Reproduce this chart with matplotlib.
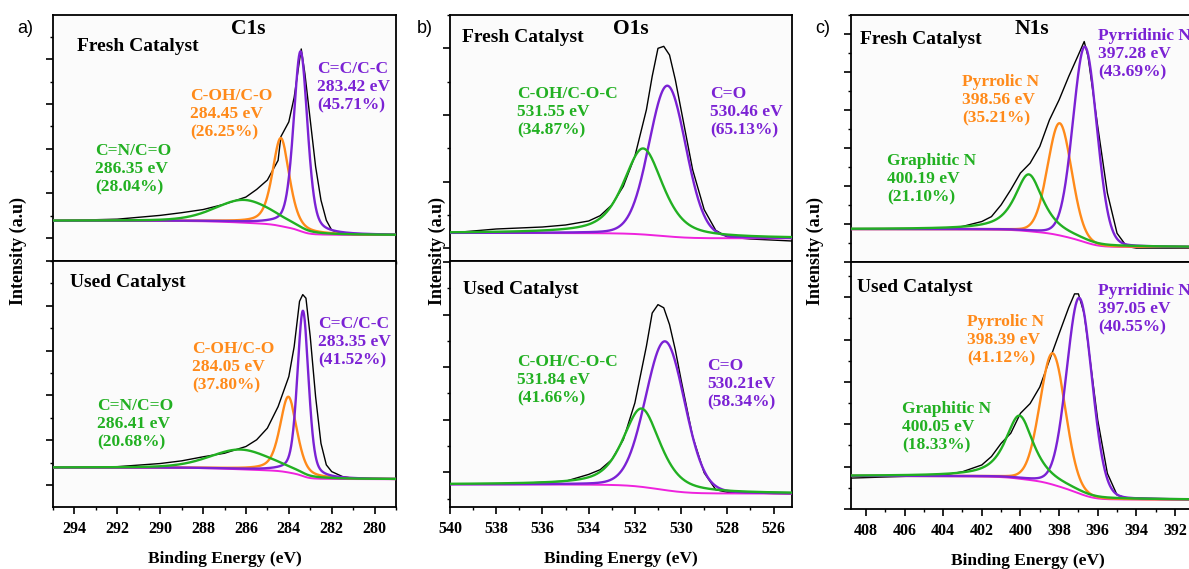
import numpy as np
import matplotlib
matplotlib.use("Agg")
import matplotlib.pyplot as plt
from matplotlib.ticker import MultipleLocator, NullFormatter

# ------------------------------------------------------------------ data
# Fitted components: centre (eV), height (a.u.), FWHM (eV), Lorentz fraction
# baseline = [high-BE side, low-BE side] of the Shirley background
c1s_fresh_center = [283.45, 284.37, 286.07]
c1s_fresh_height = [4.02, 1.97, 0.51]
c1s_fresh_fwhm = [0.77, 0.93, 3.2]
c1s_fresh_eta = [0.4, 0.5, 0.3]
c1s_fresh_base = [1.39, 1.07]

c1s_used_center = [283.34, 284.02, 286.23]
c1s_used_height = [3.69, 1.69, 0.44]
c1s_used_fwhm = [0.62, 0.93, 3.4]
c1s_used_eta = [0.4, 0.5, 0.3]
c1s_used_base = [1.39, 1.13]

o1s_fresh_center = [530.59, 531.64]
o1s_fresh_height = [2.26, 1.29]
o1s_fresh_fwhm = [1.88, 2.02]
o1s_fresh_eta = [0.1, 0.6]
o1s_fresh_base = [1.23, 1.15]

o1s_used_center = [530.69, 531.71]
o1s_used_height = [2.83, 1.49]
o1s_used_fwhm = [2.0, 1.9]
o1s_used_eta = [0.1, 0.6]
o1s_used_base = [0.77, 0.595]

n1s_fresh_center = [396.66, 397.97, 399.57]
n1s_fresh_height = [5.16, 2.96, 1.50]
n1s_fresh_fwhm = [1.46, 1.46, 1.72]
n1s_fresh_eta = [0.1, 0.1, 0.8]
n1s_fresh_base = [0.86, 0.385]

n1s_used_center = [396.95, 398.33, 400.05]
n1s_used_height = [4.62, 3.10, 1.49]
n1s_used_fwhm = [1.55, 1.55, 1.72]
n1s_used_eta = [0.1, 0.1, 0.8]
n1s_used_base = [0.78, 0.22]

c1s_fresh_be = [295, 292, 290, 289, 288, 287, 286, 285.5, 285, 284.5, 284.37, 284, 283.75,
                283.5, 283.42, 283.25, 283.0, 282.75, 282.5, 282.25, 282, 281.5, 281, 279]
c1s_fresh_int = [1.39, 1.425, 1.51, 1.57, 1.64, 1.76, 1.92, 2.09, 2.30, 2.74, 3.27, 3.60, 4.15,
                 4.98, 5.23, 4.68, 3.64, 2.60, 1.85, 1.40, 1.18, 1.105, 1.08, 1.07]
c1s_used_be = [295, 292, 290, 289, 288, 287, 286, 285.5, 285, 284.5, 284, 283.75, 283.5,
               283.35, 283.2, 283.0, 282.75, 282.5, 282.25, 282, 281.5, 281, 279]
c1s_used_int = [1.39, 1.41, 1.48, 1.54, 1.63, 1.71, 1.86, 2.01, 2.27, 2.75, 3.42, 4.09, 5.10,
                5.25, 5.17, 4.31, 2.97, 1.93, 1.45, 1.30, 1.19, 1.15, 1.13]
o1s_fresh_be = [540, 538, 536, 535, 534, 533.5, 533, 532.5, 532, 531.5, 531.25, 531, 530.75,
                530.5, 530.25, 530, 529.5, 529, 528.5, 528, 527, 525.2]
o1s_fresh_int = [1.23, 1.29, 1.32, 1.35, 1.41, 1.49, 1.65, 1.93, 2.38, 3.08, 3.58, 4.00, 4.03,
                 3.90, 3.53, 3.08, 2.18, 1.58, 1.27, 1.17, 1.14, 1.11]
o1s_used_be = [540, 537, 535, 534, 533.5, 533, 532.5, 532, 531.5, 531.25, 531, 530.75, 530.5,
               530.25, 530, 529.5, 529, 528.5, 528, 526, 525.2]
o1s_used_int = [0.77, 0.79, 0.83, 0.96, 1.05, 1.24, 1.62, 2.32, 3.40, 4.03, 4.19, 4.13, 3.81,
                3.33, 2.76, 1.68, 0.99, 0.67, 0.62, 0.595, 0.59]
n1s_fresh_be = [408.77, 404, 403, 402, 401.5, 401, 400.5, 400, 399.5, 399, 398.5, 398, 397.5,
                397, 396.7, 396.5, 396, 395.5, 395, 394.5, 394, 390.5]
n1s_fresh_int = [0.86, 0.86, 0.93, 1.06, 1.19, 1.50, 1.90, 2.34, 2.60, 3.04, 3.74, 4.27, 4.89,
                 5.46, 5.81, 5.41, 3.57, 1.81, 0.75, 0.40, 0.36, 0.36]
n1s_used_be = [408.77, 404, 403, 402, 401.5, 401, 400.5, 400, 399.5, 399, 398.5, 398, 397.5,
               397.2, 397, 396.7, 396.5, 396, 395.5, 395, 394.5, 390.5]
n1s_used_int = [0.73, 0.80, 0.88, 1.04, 1.24, 1.55, 1.79, 2.26, 2.49, 2.88, 3.51, 4.14, 4.76,
                5.08, 5.08, 4.61, 3.90, 2.10, 0.84, 0.33, 0.26, 0.23]

# Labels
c1s_names = ["C=C/C-C", "C-OH/C-O", "C=N/C=O"]
c1s_fresh_pos = ["283.42 eV", "284.45 eV", "286.35 eV"]
c1s_fresh_pct = ["(45.71%)", "(26.25%)", "(28.04%)"]
c1s_used_pos = ["283.35 eV", "284.05 eV", "286.41 eV"]
c1s_used_pct = ["(41.52%)", "(37.80%)", "(20.68%)"]
o1s_names = ["C=O", "C-OH/C-O-C"]
o1s_fresh_pos = ["530.46 eV", "531.55 eV"]
o1s_fresh_pct = ["(65.13%)", "(34.87%)"]
o1s_used_pos = ["530.21eV", "531.84 eV"]
o1s_used_pct = ["(58.34%)", "(41.66%)"]
n1s_names = ["Pyrridinic N", "Pyrrolic N", "Graphitic N"]
n1s_fresh_pos = ["397.28 eV", "398.56 eV", "400.19 eV"]
n1s_fresh_pct = ["(43.69%)", "(35.21%)", "(21.10%)"]
n1s_used_pos = ["397.05 eV", "398.39 eV", "400.05 eV"]
n1s_used_pct = ["(40.55%)", "(41.12%)", "(18.33%)"]
panel_titles = ["C1s", "O1s", "N1s"]
panel_letters = ["a)", "b)", "c)"]
row_titles = ["Fresh Catalyst", "Used Catalyst"]

# ------------------------------------------------------------------ style
PURPLE = "#7b22d4"
ORANGE = "#ff8a1a"
GREEN = "#22b022"
MAGENTA = "#ee22dd"
SERIF = ["Liberation Serif", "DejaVu Serif"]
SANS = ["Liberation Sans", "DejaVu Sans"]
W, H = 1189, 569

plt.rcParams["font.family"] = SERIF
plt.rcParams["font.weight"] = "bold"
plt.rcParams["axes.labelweight"] = "bold"
fig = plt.figure(figsize=(W / 100, H / 100), dpi=100)


def fx(px):
    return px / W


def fy(py):
    return 1 - py / H


def pv(x, c, h, w, eta):
    d = (x - c) / w
    return h * (eta / (1 + 4 * d * d) + (1 - eta) * np.exp(-4 * np.log(2) * d * d))


def draw(ax, xlim, center, height, fwhm, eta, base, be, inten, colors):
    x = np.linspace(min(xlim), max(xlim), 2500)
    peaks = [pv(x, c, h, w, e) for c, h, w, e in zip(center, height, fwhm, eta)]
    total = np.sum(peaks, axis=0)
    cum = np.cumsum(total)
    bg = base[1] + (base[0] - base[1]) * cum / cum[-1]
    ax.plot(be, inten, color="black", lw=1.0, zorder=2)
    ax.plot(x, bg, color=MAGENTA, lw=1.4, zorder=3)
    rank = {ORANGE: 0, PURPLE: 1, GREEN: 2}
    for i in sorted(range(len(center)), key=lambda i: rank[colors[i]]):
        ax.plot(x, bg + peaks[i], color=colors[i], lw=1.7, zorder=4 + rank[colors[i]])


panels = [
    dict(xl=53, xr=396, rows=[(15, 261), (261, 507)], xlim=(295, 279),
         ylims=[(0.49, 5.99), (0.51, 6.0)],
         fits=[(c1s_fresh_center, c1s_fresh_height, c1s_fresh_fwhm, c1s_fresh_eta, c1s_fresh_base,
                c1s_fresh_be, c1s_fresh_int),
               (c1s_used_center, c1s_used_height, c1s_used_fwhm, c1s_used_eta, c1s_used_base,
                c1s_used_be, c1s_used_int)],
         colors=[PURPLE, ORANGE, GREEN],
         names=c1s_names, pos=[c1s_fresh_pos, c1s_used_pos], pct=[c1s_fresh_pct, c1s_used_pct],
         lab_xy=[[(317, 61), (190, 88), (95, 143)], [(318, 316), (192, 341), (97, 398)]],
         row_xy=[(77, 38), (70, 274)], title_x=248, letter_x=17, ylab_x=18),
    dict(xl=450, xr=792, rows=[(15, 261), (261, 507)], xlim=(540, 525.2),
         ylims=[(0.81, 4.50), (0.34, 5.02)],
         fits=[(o1s_fresh_center, o1s_fresh_height, o1s_fresh_fwhm, o1s_fresh_eta, o1s_fresh_base,
                o1s_fresh_be, o1s_fresh_int),
               (o1s_used_center, o1s_used_height, o1s_used_fwhm, o1s_used_eta, o1s_used_base,
                o1s_used_be, o1s_used_int)],
         colors=[PURPLE, GREEN],
         names=o1s_names, pos=[o1s_fresh_pos, o1s_used_pos], pct=[o1s_fresh_pct, o1s_used_pct],
         lab_xy=[[(710, 86), (517, 86)], [(707, 358), (517, 354)]],
         row_xy=[(462, 29), (463, 281)], title_x=631, letter_x=417, ylab_x=437),
    dict(xl=851, xr=1204, rows=[(15, 261.7), (261.7, 509)], xlim=(408.77, 390.5),
         ylims=[(0.0, 6.51), (0.0, 5.84)],
         fits=[(n1s_fresh_center, n1s_fresh_height, n1s_fresh_fwhm, n1s_fresh_eta, n1s_fresh_base,
                n1s_fresh_be, n1s_fresh_int),
               (n1s_used_center, n1s_used_height, n1s_used_fwhm, n1s_used_eta, n1s_used_base,
                n1s_used_be, n1s_used_int)],
         colors=[PURPLE, ORANGE, GREEN],
         names=n1s_names, pos=[n1s_fresh_pos, n1s_used_pos], pct=[n1s_fresh_pct, n1s_used_pct],
         lab_xy=[[(1098, 28), (962, 74), (887, 153)], [(1098, 283), (967, 314), (902, 401)]],
         row_xy=[(860, 31), (857, 279)], title_x=1032, letter_x=815, ylab_x=815),
]

for p_i, p in enumerate(panels):
    for r, (top, bot) in enumerate(p["rows"]):
        ax = fig.add_axes([fx(p["xl"]), fy(bot), fx(p["xr"] - p["xl"]), (bot - top) / H])
        ax.set_facecolor("#fbfbfb")
        ax.set_xlim(*p["xlim"])
        ax.set_ylim(*p["ylims"][r])
        draw(ax, p["xlim"], *p["fits"][r], p["colors"])
        ax.xaxis.set_major_locator(MultipleLocator(2))
        ax.xaxis.set_minor_locator(MultipleLocator(1))
        ax.yaxis.set_major_locator(MultipleLocator(1))
        ax.yaxis.set_minor_locator(MultipleLocator(0.5))
        ax.yaxis.set_major_formatter(NullFormatter())
        ax.tick_params(which="major", direction="out", length=5, width=1.2, pad=5)
        ax.tick_params(which="minor", direction="out", length=2.5, width=1.0)
        ax.tick_params(axis="x", labelsize=11.5)
        for s in ax.spines.values():
            s.set_linewidth(1.3)
        if r == 0:
            ax.xaxis.set_major_formatter(NullFormatter())
        else:
            ax.set_xlabel("Binding Energy (eV)", fontsize=12.5, fontweight="bold", labelpad=10)
        # component labels
        for k, (lx, ly) in enumerate(p["lab_xy"][r]):
            fig.text(fx(lx), fy(ly), p["names"][k] + "\n" + p["pos"][r][k] + "\n" + p["pct"][r][k],
                     color=p["colors"][k], fontsize=12.5, fontweight="bold", ha="left", va="top",
                     linespacing=1.2)
        rx, ry = p["row_xy"][r]
        fig.text(fx(rx), fy(ry), row_titles[r], fontsize=14, fontweight="bold", ha="left", va="top")
    fig.text(fx(p["title_x"]), fy(19), panel_titles[p_i], fontsize=15.5, fontweight="bold",
             ha="center", va="top")
    fig.text(fx(p["letter_x"]), fy(20), panel_letters[p_i], fontsize=13, family=SANS,
             fontweight="normal", ha="left", va="top")
    fig.text(fx(p["ylab_x"]), fy(251), "Intensity (a.u)", fontsize=13, fontweight="bold",
             rotation=90, ha="center", va="center")

fig.savefig("out.png", dpi=100, facecolor="white")
